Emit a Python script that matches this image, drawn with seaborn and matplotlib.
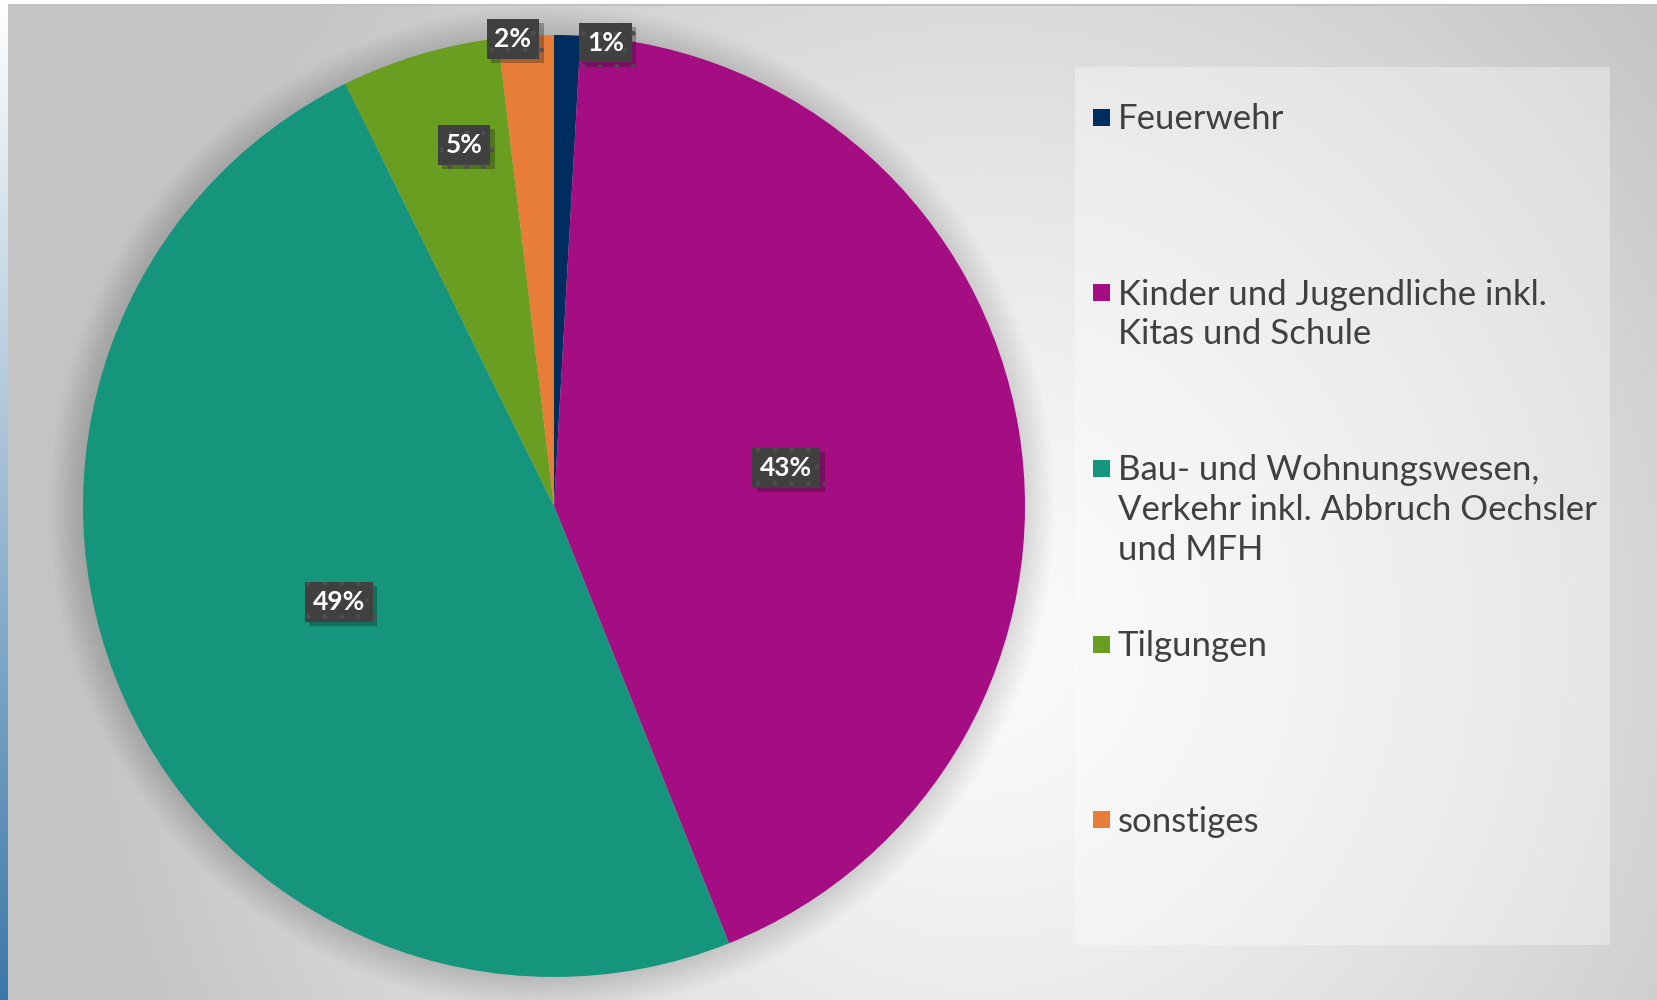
import numpy as np
import seaborn as sns
import matplotlib.pyplot as plt
import matplotlib.patheffects as pe
from matplotlib.patches import Rectangle, Circle

# Anteile in Prozent
kategorien = ['Feuerwehr',
              'Kinder und Jugendliche inkl.\nKitas und Schule',
              'Bau- und Wohnungswesen,\nVerkehr inkl. Abbruch Oechsler\nund MFH',
              'Tilgungen',
              'sonstiges']
anteile = [0.9, 43.0, 48.7, 5.4, 1.9]
farben = ['#002d60', '#a50e82', '#15967c', '#6a9e20', '#e87d38']

# Position der Beschriftungen (Abstand vom Mittelpunkt, Winkelversatz)
label_abstand = [0.99, 0.5, 0.5, 0.79, 0.995]
label_versatz = [-4.7, 0, 0, -2.6, 1.6]

sns.set_theme(style='white')
plt.rcParams['font.family'] = ['Lato', 'DejaVu Sans']

W, H = 1657, 1000
fig = plt.figure(figsize=(W / 100, H / 100), dpi=100)

# Hintergrund mit Verlauf
bg = fig.add_axes([0, 0, 1, 1])
yy, xx = np.mgrid[0:H, 0:W]
d = np.sqrt(((xx - 980) / 1.0) ** 2 + ((yy - 640) / 1.05) ** 2)
t = np.clip(d / 900, 0, 1) ** 1.3
grau = 0.985 - 0.215 * t
img = np.dstack([grau, grau, grau])
img[:4, :, :] = 1.0
img[4:6, 8:, :] = 0.76
streifen = np.linspace(0, 1, H)[:, None]
img[:, :8, 0] = 1 - streifen * (1 - 0.23)
img[:, :8, 1] = 1 - streifen * (1 - 0.47)
img[:, :8, 2] = 1 - streifen * (1 - 0.66)
bg.imshow(img, extent=[0, W, H, 0], aspect='auto')
bg.set_xlim(0, W)
bg.set_ylim(H, 0)
bg.axis('off')

# Legendenfeld
bg.add_patch(Rectangle((1075, 67), 535, 878, fc='white', alpha=0.35, lw=0))

# Torte
cx, cy, r = 554, 506, 471
ax = fig.add_axes([(cx - r) / W, (H - cy - r) / H, 2 * r / W, 2 * r / H])
for k in range(12):
    ax.add_patch(Circle((-0.004, -0.004), 1.0 + k * 0.006, fc='black', alpha=0.012,
                        lw=0, zorder=0, clip_on=False))
wedges, _ = ax.pie(anteile, colors=farben, startangle=90, counterclock=False,
                   wedgeprops=dict(linewidth=0))
ax.set_xlim(-1, 1)
ax.set_ylim(-1, 1)
ax.axis('off')

gesamt = sum(anteile)
for w, wert, dist, versatz in zip(wedges, anteile, label_abstand, label_versatz):
    winkel = np.deg2rad((w.theta1 + w.theta2) / 2 + versatz)
    txt = ax.text(dist * np.cos(winkel), dist * np.sin(winkel),
                  f'{wert / gesamt * 100:.0f}%', ha='center', va='center',
                  color='white', fontsize=19, fontweight='bold', zorder=5,
                  bbox=dict(boxstyle='square,pad=0.3', fc='#404040', ec='#4e4e4e',
                            lw=0, hatch='.'))
    txt.get_bbox_patch().set_path_effects(
        [pe.SimplePatchShadow(offset=(3, -3), alpha=0.3), pe.Normal()])

# Legende
for i, (name, farbe) in enumerate(zip(kategorien, farben)):
    y = 117 + i * 175.7
    bg.add_patch(Rectangle((1093, y - 8.5), 17, 17, fc=farbe, lw=0))
    bg.text(1118, y - 14, name, color='#404040', fontsize=25,
            va='top', ha='left', linespacing=1.3)

fig.savefig('out.png', dpi=100)
